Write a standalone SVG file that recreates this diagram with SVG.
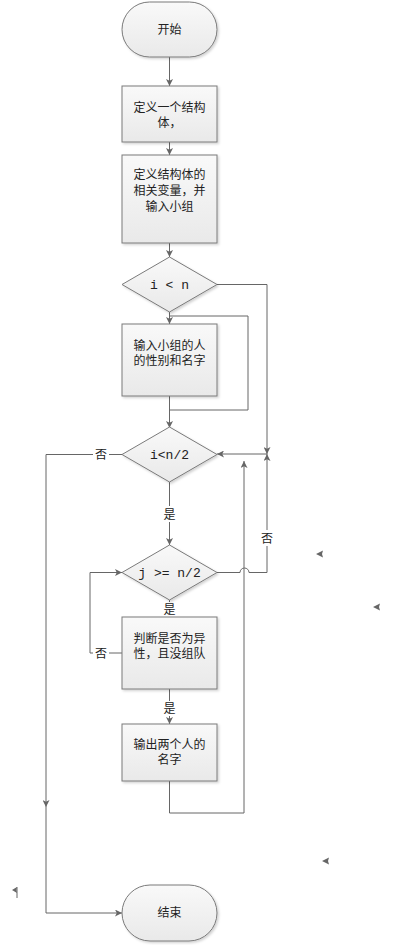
<svg xmlns="http://www.w3.org/2000/svg" width="401" height="945" viewBox="0 0 401 945">
<defs>
<linearGradient id="g" x1="0" y1="0" x2="0" y2="1"><stop offset="0" stop-color="#f9f9f9"/><stop offset="1" stop-color="#e9e9e9"/></linearGradient>
<marker id="a" viewBox="0 0 8 8" refX="8" refY="4" markerWidth="7" markerHeight="7" markerUnits="userSpaceOnUse" orient="auto"><path d="M0,0 L8,4 L0,8 L2,4 Z" fill="#666"/></marker>
<filter id="s" x="-10%" y="-10%" width="130%" height="130%"><feDropShadow dx="1.5" dy="1.5" stdDeviation="1" flood-color="#000" flood-opacity="0.18"/></filter>
</defs>
<style>
.n{fill:url(#g);stroke:#7a7a7a;stroke-width:1;filter:url(#s)}
.t{font-family:"Noto Sans CJK SC","Liberation Sans",sans-serif;font-size:12px;fill:#222;text-anchor:middle}
.m{font-family:"Liberation Mono","Noto Sans CJK SC",monospace;font-size:13px;fill:#222;text-anchor:middle}
.c{fill:none;stroke:#666;stroke-width:1}
.l{font-family:"Noto Sans CJK SC",sans-serif;font-size:12px;fill:#222;text-anchor:middle}
</style>
<g id="connectors">
<path class="c" d="M169.5,57 V86" marker-end="url(#a)"/>
<path class="c" d="M169.5,142 V155" marker-end="url(#a)"/>
<path class="c" d="M169.5,243 V257" marker-end="url(#a)"/>
<path class="c" d="M169.5,312 V324" marker-end="url(#a)"/>
<path class="c" d="M169.5,396 V428" marker-end="url(#a)"/>
<path class="c" d="M169.5,410 H248 V316 H169.5"/>
<path class="c" d="M217,284.5 H267 V454" marker-end="url(#a)"/>
<path class="c" d="M267,454 H217" marker-end="url(#a)"/>
<path class="c" d="M122,454.5 H46 V807" marker-end="url(#a)"/>
<path class="c" d="M46,807 V913 H122" marker-end="url(#a)"/>
<path class="c" d="M169.5,482 V545" marker-end="url(#a)"/>
<path class="c" d="M217,572.5 H240 A4.5,4.5 0 0 1 249,572.5 H267 V454" marker-end="url(#a)"/>
<path class="c" d="M169.5,600 V617"/>
<path class="c" d="M122,653 H90 V572.5 H122" marker-end="url(#a)"/>
<path class="c" d="M169.5,689 V724" marker-end="url(#a)"/>
<path class="c" d="M169.5,781 V813 H244 V461" marker-end="url(#a)"/>
<rect x="93" y="446" width="16" height="16" fill="#fff"/>
<text class="l" x="101" y="459">否</text>
<rect x="161" y="506" width="17" height="16" fill="#fff"/>
<text class="l" x="169.5" y="518.5">是</text>
<rect x="259" y="530" width="16" height="16" fill="#fff"/>
<text class="l" x="267" y="542.5">否</text>
<rect x="161" y="602" width="17" height="15" fill="#fff"/>
<text class="l" x="169.5" y="614">是</text>
<rect x="93" y="645" width="16" height="16" fill="#fff"/>
<text class="l" x="101" y="658">否</text>
<rect x="161" y="701" width="17" height="15" fill="#fff"/>
<text class="l" x="169.5" y="713">是</text>
<path d="M316,554 L323,550.5 L322,554 L323,557.5 Z" fill="#666"/>
<path d="M373,607 L380,603.5 L379,607 L380,610.5 Z" fill="#666"/>
<path d="M322,861 L329,857.5 L328,861 L329,864.5 Z" fill="#666"/>
<path d="M12,890 L17,887 L16.5,890 L17,893 Z" fill="#666"/>
<path d="M17,887 V898" stroke="#666" stroke-width="1"/>
</g>
<g id="start"><rect class="n" x="122" y="2" width="95" height="55" rx="27.5"/><text class="t" x="169.5" y="34">开始</text></g>
<g id="def1"><rect class="n" x="122" y="86" width="95" height="56"/><text class="t" x="169.5" y="112">定义一个结构</text><text class="t" x="169.5" y="127">体，</text></g>
<g id="def2"><rect class="n" x="122" y="155" width="95" height="88"/><text class="t" x="169.5" y="179">定义结构体的</text><text class="t" x="169.5" y="195">相关变量，并</text><text class="t" x="169.5" y="211">输入小组</text></g>
<g id="d1"><polygon class="n" points="169.5,257 217,284.5 169.5,312 122,284.5"/><text class="m" x="169.5" y="289">i &lt; n</text></g>
<g id="input"><rect class="n" x="122" y="324" width="95" height="72"/><text class="t" x="169.5" y="350">输入小组的人</text><text class="t" x="169.5" y="365">的性别和名字</text></g>
<g id="d2"><polygon class="n" points="169.5,427 217,454.5 169.5,482 122,454.5"/><text class="m" x="169.5" y="459">i&lt;n/2</text></g>
<g id="d3"><polygon class="n" points="169.5,545 217,572.5 169.5,600 122,572.5"/><text class="m" x="169.5" y="577">j &gt;= n/2</text></g>
<g id="judge"><rect class="n" x="122" y="617" width="95" height="72"/><text class="t" x="169.5" y="643">判断是否为异</text><text class="t" x="169.5" y="658">性，且没组队</text></g>
<g id="output"><rect class="n" x="122" y="724" width="95" height="57"/><text class="t" x="169.5" y="749">输出两个人的</text><text class="t" x="169.5" y="764">名字</text></g>
<g id="end"><rect class="n" x="122" y="885" width="95" height="56" rx="28"/><text class="t" x="169.5" y="917">结束</text></g>
</svg>
